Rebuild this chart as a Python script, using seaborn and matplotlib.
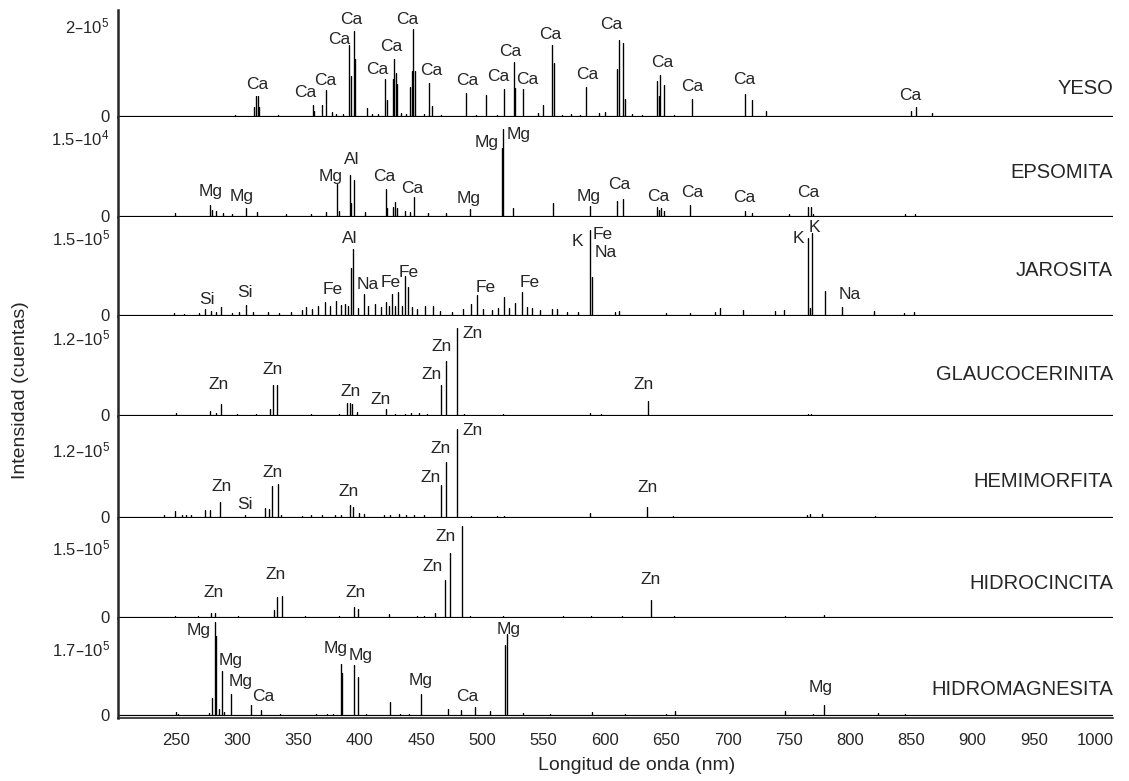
import pandas as pd
import seaborn as sns
import matplotlib.pyplot as plt

yeso_wl = [298.1, 313.9, 315.2, 316.7, 317.8, 333.5, 362.0, 362.6, 368.9, 372.4, 377.5, 380.5, 386.0,
           391.2, 392.4, 395.2, 396.0, 406.1, 410.0, 415.0, 420.8, 421.9, 426.8, 428.2, 429.3, 430.4,
           433.5, 438.0, 441.0, 442.3, 443.7, 444.8, 452.0, 456.7, 459.2, 466.0, 486.6, 495.0, 502.6,
           512.0, 517.6, 525.5, 526.6, 533.4, 545.0, 549.7, 556.8, 558.4, 565.0, 572.0, 580.0, 584.4,
           595.0, 600.0, 609.8, 611.4, 615.0, 616.0, 622.0, 630.0, 642.6, 644.0, 645.1, 648.2, 656.0,
           670.9, 680.0, 690.0, 714.0, 719.9, 731.7, 745.0, 758.0, 790.0, 849.9, 853.5, 866.7]
yeso_int = [4e3, 20e3, 45e3, 45e3, 20e3, 3e3, 26e3, 12e3, 24e3, 58e3, 10e3, 5e3, 6e3,
            155e3, 89e3, 187e3, 126e3, 19e3, 6e3, 5e3, 81e3, 37e3, 81e3, 126e3, 95e3, 70e3,
            8e3, 6e3, 65e3, 99e3, 191e3, 99e3, 5e3, 72e3, 22e3, 4e3, 52e3, 4e3, 46e3,
            4e3, 61e3, 118e3, 62e3, 59e3, 8e3, 24e3, 157e3, 117e3, 4e3, 5e3, 4e3, 65e3,
            7e3, 9e3, 104e3, 168e3, 160e3, 38e3, 5e3, 4e3, 77e3, 45e3, 90e3, 68e3, 3e3,
            38e3, 2e3, 2e3, 48e3, 35e3, 11e3, 2e3, 2e3, 2e3, 11e3, 20e3, 6.5e3]
yeso_lbl = [("Ca", 316.3, 70e3), ("Ca", 355.3, 52e3), ("Ca", 371.6, 79e3), ("Ca", 383.3, 169e3),
            ("Ca", 393.3, 211e3), ("Ca", 414.6, 102e3), ("Ca", 425.5, 153e3), ("Ca", 439.1, 212e3),
            ("Ca", 458.3, 100e3), ("Ca", 487.7, 79e3), ("Ca", 512.7, 87e3), ("Ca", 522.5, 142e3),
            ("Ca", 536.8, 81e3), ("Ca", 555.7, 180e3), ("Ca", 585.4, 92e3), ("Ca", 605.3, 200e3),
            ("Ca", 646.5, 118e3), ("Ca", 671.1, 66e3), ("Ca", 713.4, 81e3), ("Ca", 848.9, 45e3)]

epso_wl = [249.2, 277.7, 279.5, 283.0, 288.0, 296.0, 307.5, 316.0, 340.0, 360.0, 372.0, 381.2, 383.0,
           392.0, 393.0, 395.0, 404.0, 421.1, 422.0, 427.0, 428.4, 430.0, 437.0, 441.0, 443.9, 456.0,
           470.0, 489.8, 516.2, 517.2, 525.0, 557.5, 587.8, 609.8, 615.0, 642.6, 644.0, 646.0, 648.0,
           669.4, 714.0, 720.0, 750.0, 765.5, 767.7, 770.0, 845.0, 853.0]
epso_int = [600, 2100, 1200, 900, 500, 400, 1550, 800, 400, 400, 800, 6000, 1000,
            7700, 2400, 6800, 800, 5000, 1500, 1600, 2700, 1500, 900, 800, 3500, 600,
            500, 1240, 12800, 16400, 1550, 2500, 1900, 2900, 3200, 1700, 1200, 1500, 1000,
            2000, 900, 500, 300, 1700, 1700, 400, 400, 400]
epso_lbl = [("Mg", 278.3, 4.7e3), ("Mg", 303.9, 3.75e3), ("Mg", 376.0, 7.5e3), ("Al", 393.4, 10.6e3),
            ("Ca", 419.7, 7.5e3), ("Ca", 443.0, 5.1e3), ("Mg", 488.7, 3.26e3), ("Mg", 503.2, 13.9e3),
            ("Mg", 529.5, 15.3e3), ("Mg", 586.3, 3.75e3), ("Ca", 611.4, 5.9e3), ("Ca", 643.5, 3.75e3),
            ("Ca", 671.1, 4.4e3), ("Ca", 714.0, 3.4e3), ("Ca", 766.2, 4.5e3)]

jaro_wl = [248.4, 256.3, 268.8, 273.5, 278.2, 282.9, 287.0, 295.4, 301.6, 307.2, 312.6, 325.1, 334.4,
           343.8, 353.2, 356.3, 361.0, 365.7, 371.9, 375.7, 380.4, 384.4, 387.6, 390.1, 392.6, 394.4,
           398.5, 403.2, 406.3, 412.6, 417.3, 421.3, 423.8, 426.6, 429.1, 431.3, 434.5, 437.0, 439.2,
           442.3, 447.0, 453.2, 459.5, 465.7, 475.1, 484.5, 490.7, 495.4, 500.1, 507.9, 512.6, 517.3,
           522.0, 526.7, 532.0, 536.1, 540.8, 547.0, 556.4, 561.1, 568.9, 578.3, 587.6, 589.2, 608.2,
           611.4, 649.6, 669.6, 689.5, 693.5, 712.5, 738.6, 746.2, 765.5, 767.0, 768.6, 779.3, 793.7,
           819.2, 844.3, 852.0]
jaro_int = [4.4e3, 3e3, 4.4e3, 12.5e3, 7.5e3, 6e3, 15.6e3, 5e3, 6e3, 18.8e3, 6e3, 6e3, 5e3,
            6e3, 9e3, 15.6e3, 11e3, 17.5e3, 25e3, 17.5e3, 28e3, 20e3, 22e3, 17.5e3, 90.6e3, 126e3,
            13.8e3, 40.6e3, 17.5e3, 22e3, 15.6e3, 25e3, 17.5e3, 40.6e3, 17.5e3, 43.8e3, 17.5e3, 73.8e3, 53e3,
            15.6e3, 12.5e3, 17.5e3, 17.5e3, 7.5e3, 6e3, 11e3, 22e3, 38.8e3, 11e3, 9e3, 13.8e3, 34.4e3,
            13.8e3, 23.8e3, 45e3, 15.6e3, 13.8e3, 9e3, 11e3, 11e3, 6e3, 6e3, 162.5e3, 72e3, 6.5e3,
            7.8e3, 4.5e3, 4.5e3, 6.5e3, 14e3, 9e3, 7.8e3, 9e3, 147e3, 14e3, 156e3, 46.6e3, 15.5e3,
            7.8e3, 4.5e3, 6.5e3]
jaro_lbl = [("Si", 275.0, 30e3), ("Si", 306.2, 43e3), ("Fe", 378.0, 49e3), ("Al", 392.1, 147e3),
            ("Na", 406.2, 58.6e3), ("Fe", 425.0, 62e3), ("Fe", 439.9, 82e3), ("Fe", 503.0, 52e3),
            ("Fe", 538.8, 63e3), ("K", 577.8, 140e3), ("Fe", 598.4, 153e3), ("Na", 600.6, 120e3),
            ("K", 757.9, 147e3), ("K", 770.7, 168e3), ("Na", 799.9, 39.7e3)]

glau_wl = [250.0, 278.1, 283.0, 286.6, 300.0, 315.0, 326.5, 329.0, 332.8, 345.0, 360.0, 383.0, 389.5,
           391.7, 394.0, 398.0, 421.0, 429.0, 437.0, 442.0, 448.0, 455.0, 466.4, 470.7, 479.5, 485.0,
           517.0, 587.8, 597.0, 635.3, 765.5, 768.0]
glau_int = [4e3, 6.6e3, 3e3, 17.7e3, 1.5e3, 1.5e3, 9e3, 47e3, 47e3, 1e3, 1.5e3, 1.5e3, 19e3,
            18e3, 16.7e3, 5e3, 10e3, 2e3, 2.5e3, 3e3, 3.5e3, 2.5e3, 47e3, 82.5e3, 133e3, 2e3,
            1.5e3, 3e3, 1.5e3, 21e3, 2e3, 1.5e3]
glau_lbl = [("Zn", 284.4, 47e3), ("Zn", 328.7, 70e3), ("Zn", 392.7, 37e3), ("Zn", 417.1, 24e3),
            ("Zn", 458.3, 62e3), ("Zn", 466.4, 105e3), ("Zn", 492.0, 125.6e3), ("Zn", 631.2, 47e3)]

hemi_wl = [240.0, 249.5, 255.0, 258.0, 262.0, 273.8, 277.9, 286.3, 306.0, 322.9, 326.3, 328.5, 333.2,
           336.0, 353.0, 360.0, 369.0, 380.0, 385.0, 391.6, 394.1, 399.0, 403.5, 420.0, 425.0, 432.0,
           438.0, 444.0, 452.0, 465.9, 470.5, 479.4, 490.9, 512.0, 518.0, 587.7, 634.5, 655.4, 764.6,
           767.5, 777.0, 820.0]
hemi_int = [3e3, 10e3, 4e3, 3.5e3, 3e3, 11.6e3, 12.8e3, 25.6e3, 3e3, 15.7e3, 14e3, 53.6e3, 58e3,
            4e3, 2e3, 3.5e3, 2.5e3, 3e3, 4e3, 20.4e3, 17.5e3, 6e3, 5.8e3, 4e3, 3.5e3, 4.5e3,
            4e3, 3e3, 4e3, 56.5e3, 97e3, 155.5e3, 2.3e3, 2e3, 2e3, 7e3, 17e3, 2.3e3, 4e3,
            5e3, 5e3, 1.5e3]
hemi_lbl = [("Zn", 287.3, 54e3), ("Si", 306.6, 22e3), ("Zn", 328.5, 77.6e3), ("Zn", 391.0, 45e3),
            ("Zn", 458.0, 68.8e3), ("Zn", 465.9, 121e3), ("Zn", 492.3, 152e3), ("Zn", 635.1, 51e3)]

hidc_wl = [249.0, 268.0, 278.6, 281.8, 301.0, 330.0, 332.6, 336.3, 355.0, 383.0, 395.0, 398.7, 423.7,
           447.0, 452.0, 461.3, 469.9, 473.7, 483.1, 490.0, 517.0, 566.0, 589.0, 614.0, 637.6, 656.0,
           747.0, 778.4, 815.0]
hidc_int = [2e3, 1.5e3, 8.5e3, 8.5e3, 1.5e3, 15.5e3, 42e3, 45e3, 1.5e3, 2e3, 22.5e3, 17.6e3, 7e3,
            2.5e3, 3e3, 10e3, 80e3, 136.6e3, 195e3, 2e3, 2e3, 1.5e3, 2.5e3, 2e3, 36.6e3, 2e3,
            2e3, 5e3, 1e3]
hidc_lbl = [("Zn", 281.0, 52e3), ("Zn", 331.6, 91e3), ("Zn", 396.5, 52e3), ("Zn", 459.0, 108e3),
            ("Zn", 469.6, 172e3), ("Zn", 637.2, 80e3)]

hidm_wl = [250.0, 252.0, 277.0, 279.7, 281.9, 282.8, 285.0, 287.5, 289.0, 295.3, 311.5, 319.7, 335.0,
           364.0, 373.0, 378.0, 384.6, 385.6, 395.2, 398.9, 405.0, 424.9, 433.0, 440.0, 449.9, 471.8,
           482.7, 493.7, 506.1, 518.6, 520.1, 533.0, 555.0, 589.4, 616.7, 650.0, 657.5, 746.9, 770.0,
           778.5, 822.9, 845.0]
hidm_int = [8e3, 4e3, 5e3, 42.7e3, 235e3, 200e3, 15e3, 112.5e3, 8e3, 53e3, 24.6e3, 14e3, 4e3,
            3e3, 4e3, 4e3, 129e3, 106.7e3, 127e3, 96e3, 4e3, 32.8e3, 4e3, 3e3, 52.5e3, 15.6e3,
            14e3, 19.7e3, 10e3, 178e3, 207e3, 5e3, 3e3, 8e3, 4e3, 3e3, 11e3, 11e3, 4e3,
            25e3, 5e3, 3e3]
hidm_lbl = [("Mg", 268.1, 215e3), ("Mg", 294.7, 139e3), ("Mg", 302.5, 85.5e3), ("Ca", 321.2, 46e3),
            ("Mg", 380.5, 169e3), ("Mg", 400.5, 151e3), ("Mg", 449.2, 87e3), ("Ca", 487.3, 46e3),
            ("Mg", 521.7, 217e3), ("Mg", 775.9, 69e3)]

minerals = ["YESO", "EPSOMITA", "JAROSITA", "GLAUCOCERINITA", "HEMIMORFITA", "HIDROCINCITA",
            "HIDROMAGNESITA"]
tick_vals = [2e5, 1.5e4, 1.5e5, 1.2e5, 1.2e5, 1.5e5, 1.7e5]
tick_txt = ["2–10$^5$", "1.5–10$^4$", "1.5–10$^5$", "1.2–10$^5$", "1.2–10$^5$", "1.5–10$^5$",
            "1.7–10$^5$"]
x_ticks = [250, 300, 350, 400, 450, 500, 550, 600, 650, 700, 750, 800, 850, 900, 950, 1000]

spectra = [(yeso_wl, yeso_int, yeso_lbl), (epso_wl, epso_int, epso_lbl), (jaro_wl, jaro_int, jaro_lbl),
           (glau_wl, glau_int, glau_lbl), (hemi_wl, hemi_int, hemi_lbl), (hidc_wl, hidc_int, hidc_lbl),
           (hidm_wl, hidm_int, hidm_lbl)]

# ---- layout ----
XMIN, XMAX = 202.7, 1014.5
heights = [107.3, 99.4, 99.3, 100, 101.7, 100.3, 100]
ymax = [232.5e3, 18.64e3, 187.8e3, 151.9e3, 177.6e3, 211.9e3, 246.4e3]
name_y = [0.27, 0.44, 0.46, 0.41, 0.36, 0.34, 0.28]

sns.set_style("white")
plt.rcParams["font.family"] = ["Liberation Sans", "DejaVu Sans"]
plt.rcParams["mathtext.default"] = "regular"


def stick_frame(wl, inten):
    # espectro de lineas: baseline + una barra vertical por pico
    xs, ys = [XMIN], [0.0]
    for w, h in sorted(zip(wl, inten)):
        xs += [w, w, w]
        ys += [0.0, h, 0.0]
    xs.append(XMAX)
    ys.append(0.0)
    return pd.DataFrame({"wl": xs, "cuentas": ys})


fig = plt.figure(figsize=(11.29, 7.81), dpi=100)
gs = fig.add_gridspec(7, 1, height_ratios=heights, hspace=0,
                      left=118 / 1129, right=1113 / 1129, top=1 - 10 / 781, bottom=1 - 718 / 781)

for i, (wl, inten, lbls) in enumerate(spectra):
    ax = fig.add_subplot(gs[i])
    df = stick_frame(wl, inten)
    sns.lineplot(data=df, x="wl", y="cuentas", sort=False, estimator=None,
                 color="black", linewidth=0.85, ax=ax)
    last = i == len(spectra) - 1
    lo = -0.03 * ymax[i] if last else -0.008 * ymax[i]
    ax.set_xlim(XMIN, XMAX)
    ax.set_ylim(lo, ymax[i])
    ax.set_yticks([0, tick_vals[i]])
    ax.set_yticklabels(["0", tick_txt[i]])
    ax.tick_params(axis="y", length=0, pad=6, labelsize=12)
    ax.set_xlabel("")
    ax.set_ylabel("")
    for s in ["top", "right"]:
        ax.spines[s].set_visible(False)
    ax.spines["left"].set_linewidth(1.8)
    if last:
        ax.spines["bottom"].set_linewidth(1.2)
        ax.set_xticks(x_ticks)
        ax.tick_params(axis="x", length=3, width=1, direction="out", pad=8, labelsize=12)
    else:
        ax.spines["bottom"].set_visible(False)
        ax.set_xticks([])
    for el, xw, yc in lbls:
        ax.text(xw, yc, el, ha="center", va="center", fontsize=12.5)
    ax.text(1.0, name_y[i], minerals[i], transform=ax.transAxes, ha="right", va="center",
            fontsize=14.5)

fig.text(637 / 1129, 1 - 766 / 781, "Longitud de onda (nm)", ha="center", va="center", fontsize=14)
fig.text(21 / 1129, 0.5, "Intensidad (cuentas)", rotation=90, ha="center", va="center", fontsize=14)

fig.savefig("out.png", dpi=100)
